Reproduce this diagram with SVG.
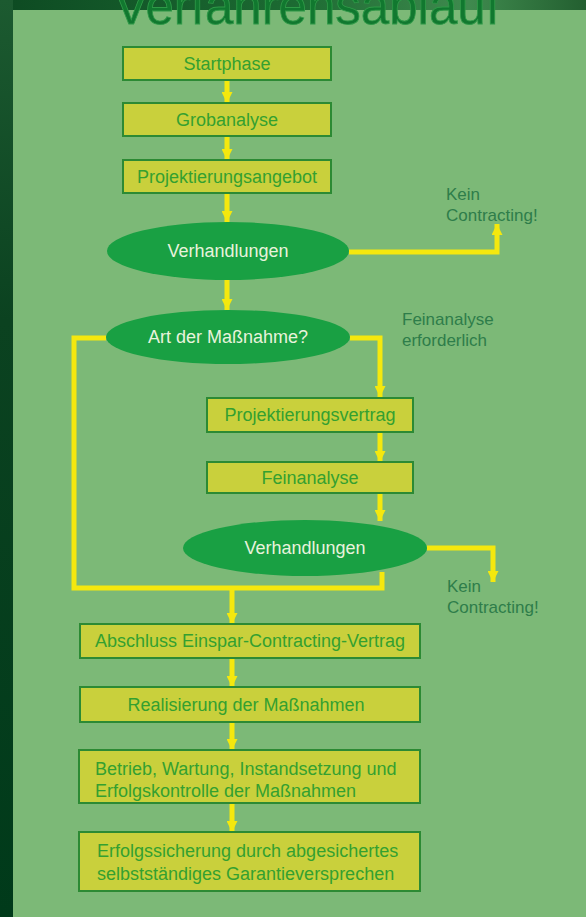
<svg xmlns="http://www.w3.org/2000/svg" width="586" height="917" viewBox="0 0 586 917">
<defs>
<linearGradient id="bgTop" x1="0" y1="0" x2="1" y2="0">
<stop offset="0" stop-color="#0d4a22"/>
<stop offset="0.5" stop-color="#1c6a32"/>
<stop offset="0.8" stop-color="#3f8a4e"/>
<stop offset="1" stop-color="#235f30"/>
</linearGradient>
<linearGradient id="bgLeft" x1="0" y1="0" x2="0" y2="1">
<stop offset="0" stop-color="#1c5a30"/>
<stop offset="0.35" stop-color="#0b4220"/>
<stop offset="1" stop-color="#003a1a"/>
</linearGradient>
<marker id="ah" viewBox="0 0 10 10" refX="10" refY="5" markerWidth="11" markerHeight="11" markerUnits="userSpaceOnUse" orient="auto">
<path d="M0,0 L10,5 L0,10 Z" fill="#f4e80e"/>
</marker>
</defs>
<style>
.box{fill:#c9d03c;stroke:#2c8a34;stroke-width:2}
.ell{fill:#19a043}
.bt{font-family:"Liberation Sans",Arial,sans-serif;font-size:18px;fill:#34a030;text-anchor:middle}
.bl{font-family:"Liberation Sans",Arial,sans-serif;font-size:18px;fill:#34a030}
.et{font-family:"Liberation Sans",Arial,sans-serif;font-size:18px;fill:#e8f3dc;text-anchor:middle}
.lab{font-family:"Liberation Sans",Arial,sans-serif;font-size:17px;fill:#2e7d4a}
.con{fill:none;stroke:#f4e80e;stroke-width:5}
.arr{fill:none;stroke:#f4e80e;stroke-width:5;marker-end:url(#ah)}
</style>
<rect x="0" y="0" width="586" height="917" fill="#003a1a"/>
<rect x="0" y="0" width="586" height="10" fill="url(#bgTop)"/>
<rect x="0" y="0" width="13" height="917" fill="url(#bgLeft)"/>
<rect x="13" y="10" width="573" height="907" fill="#7cb977"/>
<text x="307" y="24" font-family="Liberation Sans,Arial,sans-serif" font-size="51" fill="#11782f" stroke="#2f9a48" stroke-width="0.8" text-anchor="middle">Verfahrensablauf</text>

<g id="connectors">
<path class="arr" d="M227 81 V103"/>
<path class="arr" d="M227 137 V160"/>
<path class="arr" d="M227 194 V222"/>
<path class="arr" d="M227 280 V310"/>
<path class="arr" d="M349 252 H497 V224"/>
<path class="arr" d="M350 338 H380 V397"/>
<path class="con" d="M106 338 H74 V588 H382 V572"/>
<path class="arr" d="M380 433 V462"/>
<path class="arr" d="M380 494 V521"/>
<path class="arr" d="M427 548 H493 V582"/>
<path class="arr" d="M232 588 V624"/>
<path class="arr" d="M232 659 V687"/>
<path class="arr" d="M232 723 V750"/>
<path class="arr" d="M232 804 V832"/>
</g>

<g id="n-startphase"><rect class="box" x="123" y="47" width="208" height="33"/><text class="bt" x="227" y="70">Startphase</text></g>
<g id="n-grobanalyse"><rect class="box" x="123" y="103" width="208" height="33"/><text class="bt" x="227" y="126">Grobanalyse</text></g>
<g id="n-projektierungsangebot"><rect class="box" x="123" y="160" width="208" height="33"/><text class="bt" x="227" y="183">Projektierungsangebot</text></g>
<g id="n-verhandlungen1"><ellipse class="ell" cx="228" cy="251" rx="121" ry="29"/><text class="et" x="228" y="257">Verhandlungen</text></g>
<g id="n-art"><ellipse class="ell" cx="228" cy="337" rx="122" ry="27"/><text class="et" x="228" y="343">Art der Maßnahme?</text></g>
<g id="n-projektierungsvertrag"><rect class="box" x="207" y="398" width="206" height="34"/><text class="bt" x="310" y="421">Projektierungsvertrag</text></g>
<g id="n-feinanalyse"><rect class="box" x="207" y="462" width="206" height="31"/><text class="bt" x="310" y="484">Feinanalyse</text></g>
<g id="n-verhandlungen2"><ellipse class="ell" cx="305" cy="548" rx="122" ry="28"/><text class="et" x="305" y="554">Verhandlungen</text></g>
<g id="n-abschluss"><rect class="box" x="80" y="624" width="340" height="34"/><text class="bt" x="250" y="647">Abschluss Einspar-Contracting-Vertrag</text></g>
<g id="n-realisierung"><rect class="box" x="80" y="687" width="340" height="35"/><text class="bt" x="246" y="711">Realisierung der Maßnahmen</text></g>
<g id="n-betrieb"><rect class="box" x="79" y="750" width="341" height="53"/><text class="bl" x="95" y="775">Betrieb, Wartung, Instandsetzung und</text><text class="bl" x="95" y="797">Erfolgskontrolle der Maßnahmen</text></g>
<g id="n-erfolgssicherung"><rect class="box" x="79" y="832" width="341" height="59"/><text class="bl" x="97" y="857">Erfolgssicherung durch abgesichertes</text><text class="bl" x="97" y="880">selbstständiges Garantieversprechen</text></g>

<g id="labels">
<text class="lab" x="446" y="200">Kein</text>
<text class="lab" x="446" y="221">Contracting!</text>
<text class="lab" x="402" y="325">Feinanalyse</text>
<text class="lab" x="402" y="346">erforderlich</text>
<text class="lab" x="447" y="592">Kein</text>
<text class="lab" x="447" y="613">Contracting!</text>
</g>
</svg>
